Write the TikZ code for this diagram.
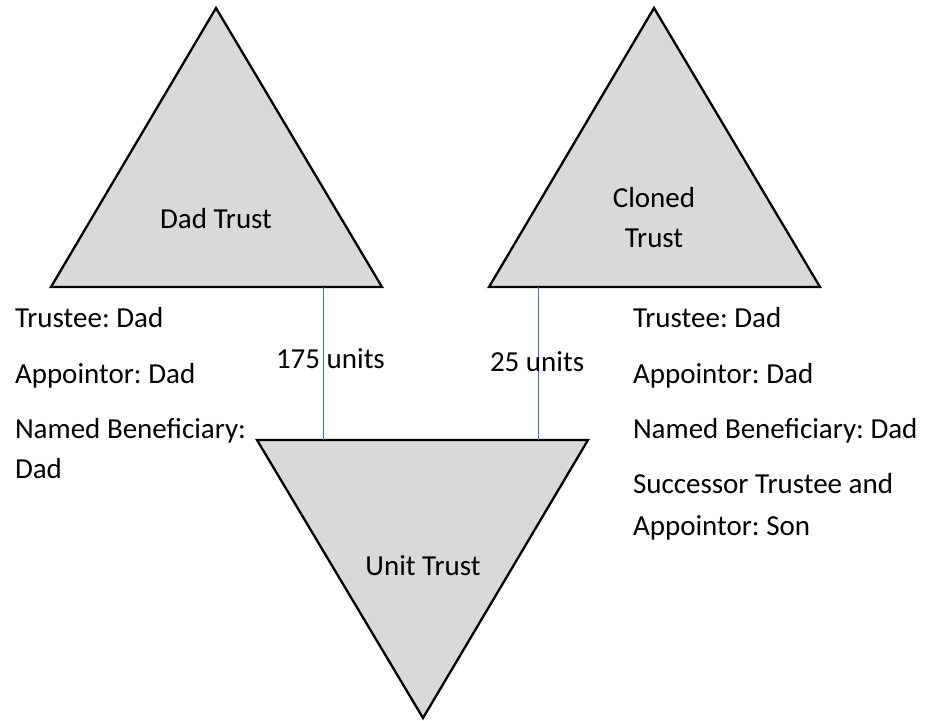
\documentclass[tikz,border=0pt]{standalone}
\usepackage{fontspec}
\setmainfont{Carlito}
\frenchspacing
\begin{document}
\begin{tikzpicture}[x=1pt,y=-1pt,
  trust/.style={draw=black,line width=2.3pt,fill=trustgray,line join=miter},
  link/.style={draw=linkblue,line width=1pt},
  txt/.style={inner sep=0pt,outer sep=0pt,font=\fontsize{29}{35}\selectfont},
  lefttxt/.style={txt,anchor=base west},
  midtxt/.style={txt,anchor=base}]
\definecolor{trustgray}{HTML}{D9D9D9}
\definecolor{linkblue}{HTML}{4472C4}
\useasboundingbox (0,0) rectangle (925,720);

% the three trusts
\draw[trust] (216,8) -- (382,287) -- (51,287) -- cycle;
\draw[trust] (654,8) -- (820,287) -- (489,287) -- cycle;
\draw[trust] (257,440) -- (588,440) -- (423,718) -- cycle;

\node[midtxt] (dadname) at (216,228) {Dad Trust};
\node[midtxt] (clonename1) at (654,207) {Cloned};
\node[midtxt] (clonename2) at (654,247) {Trust};
\node[midtxt] (unitname) at (423,575) {Unit Trust};

% unit holdings
\coordinate (dadfoot) at (323,287);
\coordinate (unitleft) at (323,440);
\coordinate (clonefoot) at (538,287);
\coordinate (unitright) at (538,440);
\draw[link] (dadfoot) -- (unitleft);
\draw[link] (clonefoot) -- (unitright);
\node[lefttxt] (units175) at (276,368) {175 units};
\node[lefttxt] (units25) at (490,371) {25 units};

% Dad Trust details
\node[lefttxt] (dadtrustee) at (15,327) {Trustee: Dad};
\node[lefttxt] (dadappointor) at (15,383) {Appointor: Dad};
\node[lefttxt] (dadbenef1) at (15,438) {Named Beneficiary:};
\node[lefttxt] (dadbenef2) at (15,478) {Dad};

% Cloned Trust details
\node[lefttxt] (clonetrustee) at (633,327) {Trustee: Dad};
\node[lefttxt] (cloneappointor) at (633,383) {Appointor: Dad};
\node[lefttxt] (clonebenef) at (633,438) {Named Beneficiary: Dad};
\node[lefttxt] (clonesucc1) at (633,493) {Successor Trustee and};
\node[lefttxt] (clonesucc2) at (633,535) {Appointor: Son};
\end{tikzpicture}
\end{document}
